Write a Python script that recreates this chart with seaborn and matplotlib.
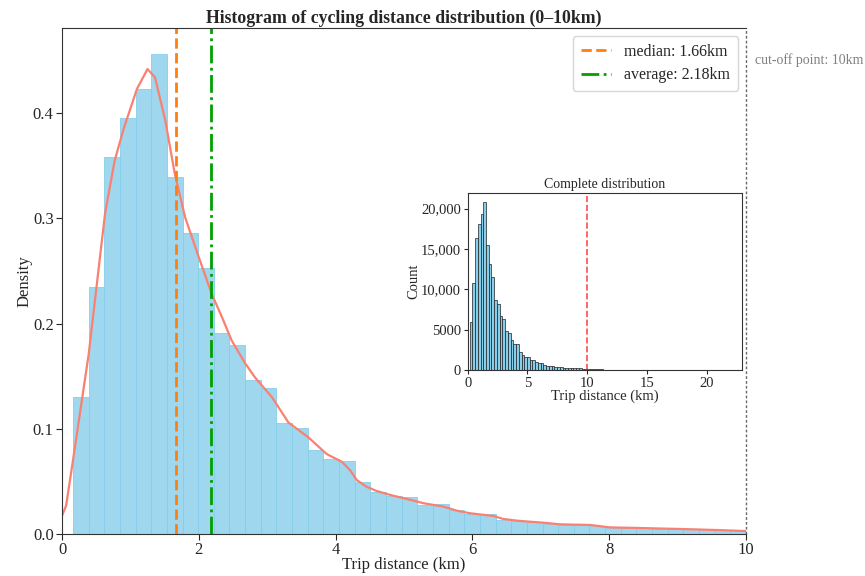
import numpy as np
import pandas as pd
import matplotlib
matplotlib.use("Agg")
import matplotlib.pyplot as plt
from matplotlib.ticker import FuncFormatter
import seaborn as sns

# ---------------- data ----------------
# main histogram (0-10 km), density per bin
bin_start = 0.16
bin_end = 10.0
n_bins_main = 43
density = [0.1306, 0.2345, 0.3585, 0.3956, 0.4228, 0.4564, 0.3391, 0.2862, 0.2532, 0.1908,
           0.1794, 0.1468, 0.1388, 0.1052, 0.1011, 0.0802, 0.0710, 0.0697, 0.0497, 0.0402,
           0.0364, 0.0349, 0.0276, 0.0282, 0.0228, 0.0193, 0.0193, 0.0130, 0.0121, 0.0115,
           0.0098, 0.0086, 0.0086, 0.0079, 0.0060, 0.0060, 0.0054, 0.0050, 0.0050, 0.0047,
           0.0045, 0.0035, 0.0032]

# KDE curve points
kde_x = [0.0, 0.06, 0.16, 0.39, 0.51, 0.63, 0.77, 0.90, 1.095, 1.25, 1.36, 1.51, 1.65, 1.80,
         2.0, 2.19, 2.34, 2.48, 2.68, 2.82, 3.07, 3.31, 3.6, 3.87, 4.09, 4.21, 4.31, 4.45,
         4.60, 4.80, 5.04, 5.29, 5.58, 5.77, 5.97, 6.31, 6.45, 6.65, 6.84, 7.03, 7.28, 7.72,
         8.01, 8.45, 9.08, 9.57, 10.0]
kde_y = [0.0174, 0.027, 0.070, 0.171, 0.238, 0.305, 0.355, 0.385, 0.423, 0.442, 0.434, 0.393,
         0.342, 0.301, 0.263, 0.228, 0.206, 0.184, 0.162, 0.149, 0.130, 0.106, 0.092, 0.076,
         0.0687, 0.0608, 0.0513, 0.045, 0.0409, 0.0371, 0.0333, 0.0292, 0.026, 0.0222, 0.0197,
         0.0171, 0.0143, 0.0127, 0.0117, 0.0108, 0.0092, 0.0086, 0.0063, 0.0057, 0.0047,
         0.0038, 0.0028]

median_km = 1.66
average_km = 2.18
cutoff_km = 10

# complete distribution (inset), counts per bin
full_bin_end = 23.04
n_bins_full = 100
counts = [5970, 10730, 16400, 18100, 19340, 20870, 15510, 13090, 11580, 8730,
          8200, 6710, 6350, 4810, 4620, 3670, 3250, 3190, 2270, 1840,
          1665, 1600, 1260, 1290, 1040, 880, 880, 590, 550, 530,
          450, 390, 390, 360, 270, 270, 250, 230, 230, 215,
          205, 160, 145, 120, 110, 95, 85, 75, 65, 58,
          50, 45, 40, 35, 32, 28, 25, 22, 20, 18,
          16, 15, 13, 12, 11, 10, 9, 8, 7, 7,
          6, 6, 5, 5, 4, 4, 4, 3, 3, 3,
          3, 2, 2, 2, 2, 2, 2, 1, 1, 1,
          1, 1, 1, 1, 1, 1, 1, 0, 0, 1]

# ---------------- style ----------------
sns.set_style("ticks")
plt.rcParams["font.family"] = ["Liberation Serif", "DejaVu Serif"]
plt.rcParams["axes.edgecolor"] = "#333333"

fig = plt.figure(figsize=(8.65, 5.76), dpi=100)
ax = fig.add_axes([0.0717, 0.0729, 0.7907, 0.8785])

w_main = (bin_end - bin_start) / n_bins_main
centers_main = [bin_start + (i + 0.5) * w_main for i in range(n_bins_main)]
df_main = pd.DataFrame({"dist": centers_main, "dens": density})
sns.histplot(data=df_main, x="dist", weights="dens", bins=n_bins_main,
             binrange=(bin_start, bin_end), ax=ax,
             color="skyblue", alpha=0.8, edgecolor="#86cfe8", linewidth=0.6)

df_kde = pd.DataFrame({"x": kde_x, "y": kde_y})
sns.lineplot(data=df_kde, x="x", y="y", ax=ax, color="#fa8072", linewidth=1.6)

ax.axvline(median_km, color="#ff7f0e", linestyle="--", linewidth=2,
           label=f"median: {median_km:.2f}km")
ax.axvline(average_km, color="#00a000", linestyle="-.", linewidth=2,
           label=f"average: {average_km:.2f}km")
ax.axvline(cutoff_km, color="dimgray", linestyle=(0, (2, 1.5)), linewidth=1, clip_on=False)

ax.set_xlim(0, 10)
ax.set_ylim(0, 0.481)
ax.set_xticks([0, 2, 4, 6, 8, 10])
ax.set_yticks([0.0, 0.1, 0.2, 0.3, 0.4])
ax.tick_params(labelsize=12, length=4, width=0.8, pad=2)
ax.set_xlabel("Trip distance (km)", fontsize=12, labelpad=-1)
ax.set_ylabel("Density", fontsize=12, labelpad=0)
ax.set_title("Histogram of cycling distance distribution (0\u201310km)",
             fontsize=12.8, fontweight="bold", pad=4)
ax.spines["right"].set_visible(False)
for s in ["left", "bottom", "top"]:
    ax.spines[s].set_linewidth(0.8)

ax.text(10.13, 0.4506, "cut-off point: 10km", color="gray", fontsize=10,
        ha="left", va="center", clip_on=False)

leg = ax.legend(loc="upper right", fontsize=11.5, frameon=True, handlelength=1.9,
                borderpad=0.5, labelspacing=0.45)
leg.get_frame().set_edgecolor("#cccccc")

# ---------------- inset ----------------
ins = fig.add_axes([0.5407, 0.3576, 0.3175, 0.3068])
w_full = (full_bin_end - bin_start) / n_bins_full
centers_full = [bin_start + (i + 0.5) * w_full for i in range(n_bins_full)]
df_full = pd.DataFrame({"dist": centers_full, "cnt": counts})
sns.histplot(data=df_full, x="dist", weights="cnt", bins=n_bins_full,
             binrange=(bin_start, full_bin_end), ax=ins,
             color="skyblue", alpha=1.0, edgecolor="#222222", linewidth=0.5)
ins.axvline(cutoff_km, color="red", linestyle="--", linewidth=1.2, alpha=0.7)
ins.set_xlim(0, 23)
ins.set_ylim(0, 21900)
ins.set_xticks([0, 5, 10, 15, 20])
ins.set_yticks([0, 5000, 10000, 15000, 20000])
ins.yaxis.set_major_formatter(FuncFormatter(
    lambda v, p: f"{v:,.0f}" if v >= 10000 else f"{v:.0f}"))
ins.tick_params(labelsize=10.5, length=3, width=0.8, pad=2)
ins.set_xlabel("Trip distance (km)", fontsize=10.5, labelpad=0)
ins.set_ylabel("Count", fontsize=10.5, labelpad=0)
ins.set_title("Complete distribution", fontsize=10, pad=4)
for s in ins.spines.values():
    s.set_linewidth(0.8)

fig.savefig("out.png", dpi=100)
